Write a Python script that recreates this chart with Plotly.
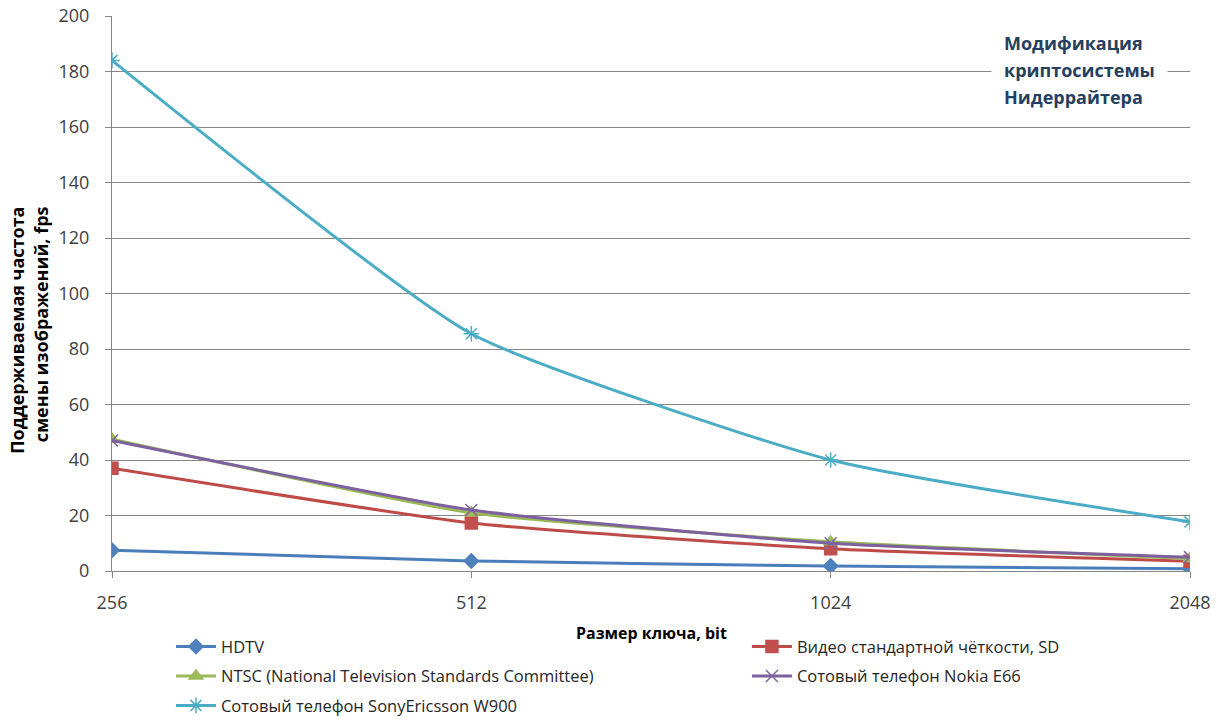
import plotly.graph_objects as go

key_sizes = ["256", "512", "1024", "2048"]

hdtv = [7.5, 3.6, 1.8, 0.8]
sd_video = [37, 17.3, 8, 3.5]
ntsc = [47.5, 21, 10.5, 4.5]
nokia_e66 = [47, 22, 10, 5]
sony_w900 = [184, 85.5, 40, 17.7]

title_lines = ["Модификация", "криптосистемы", "Нидеррайтера"]

# name, values, line colour, marker colour, symbol, size, legend
series = [
    ("HDTV", hdtv, "#4A7EBB", "#4F81BD", "diamond", 11, "legend"),
    ("Видео стандартной чёткости, SD", sd_video, "#BE4B48", "#C0504D", "square", 12, "legend2"),
    ("NTSC (National Television Standards Committee)", ntsc, "#98B954", "#9BBB59", "triangle-up", 12, "legend"),
    ("Сотовый телефон Nokia E66", nokia_e66, "#7D60A0", "#8064A2", "x-thin-open", 12, "legend2"),
    ("Сотовый телефон SonyEricsson W900", sony_w900, "#4BACC6", "#4BACC6", "asterisk-open", 13, "legend"),
]

fig = go.Figure()
for name, vals, lc, mc, sym, sz, lg in series:
    fig.add_trace(go.Scatter(
        x=key_sizes, y=vals, name=name, mode="lines+markers",
        legend=lg, legendgroup=name,
        line=dict(color=lc, width=3, shape="spline", smoothing=0.5),
        marker=dict(symbol=sym, size=sz, color=mc, line=dict(color=mc, width=1.5)),
    ))

# chart caption in the upper right; middle line masks the gridline behind it
title_font = dict(family="Open Sans", size=18, color="#243F60")
title_y = [0.952, 0.9025, 0.854]
pad = [0, 12, 0]
order = [1, 0, 2]
for i in order:
    fig.add_annotation(
        xref="paper", yref="paper", x=0.8265 - pad[i] / 1078, y=title_y[i],
        xanchor="left", yanchor="middle",
        text="<b>" + title_lines[i] + "</b>", showarrow=False,
        bgcolor="white" if pad[i] else None,
        borderpad=pad[i],
        font=title_font,
    )

# y axis title, both lines ending at the same point
fig.add_annotation(
    xref="paper", yref="paper", x=-0.077, y=0.4346,
    xanchor="center", yanchor="middle", textangle=-90, align="right",
    text="<b>Поддерживаемая частота<br>смены изображений, fps</b>",
    showarrow=False, font=dict(family="Open Sans", size=18, color="#000000"),
)

# x axis title
fig.add_annotation(
    xref="paper", yref="paper", x=0.5, y=-0.1117,
    xanchor="center", yanchor="middle",
    text="<b>Размер ключа, bit</b>", showarrow=False,
    font=dict(family="Open Sans", size=16, color="#000000"),
)

legend_common = dict(
    orientation="v", xref="paper", yref="container", yanchor="top", xanchor="left",
    font=dict(size=16.5, color="#262626", family="Open Sans"),
    tracegroupgap=5, itemwidth=40, bgcolor="rgba(0,0,0,0)",
)

fig.update_layout(
    width=1218, height=720,
    margin=dict(l=112, r=28, t=16, b=149, autoexpand=False),
    paper_bgcolor="white", plot_bgcolor="white",
    font=dict(family="Open Sans", color="#404040"),
    showlegend=True,
    legend=dict(x=0.0547, y=0.126, **legend_common),
    legend2=dict(x=0.589, y=0.126, **legend_common),
    xaxis=dict(
        type="category", range=[0, 3],
        showgrid=False, showline=True, linecolor="#868686", linewidth=1,
        ticks="outside", ticklen=6, tickcolor="#868686",
        ticklabelstandoff=9,
        tickfont=dict(size=18, color="#404040"),
    ),
    yaxis=dict(
        range=[0, 200], dtick=20,
        showgrid=True, gridcolor="#868686", gridwidth=1,
        showline=True, linecolor="#868686", linewidth=1,
        ticks="outside", ticklen=6, tickcolor="#868686",
        ticklabelstandoff=12,
        tickfont=dict(size=18, color="#404040"),
        zeroline=False,
    ),
)

fig.write_html("out.html")
